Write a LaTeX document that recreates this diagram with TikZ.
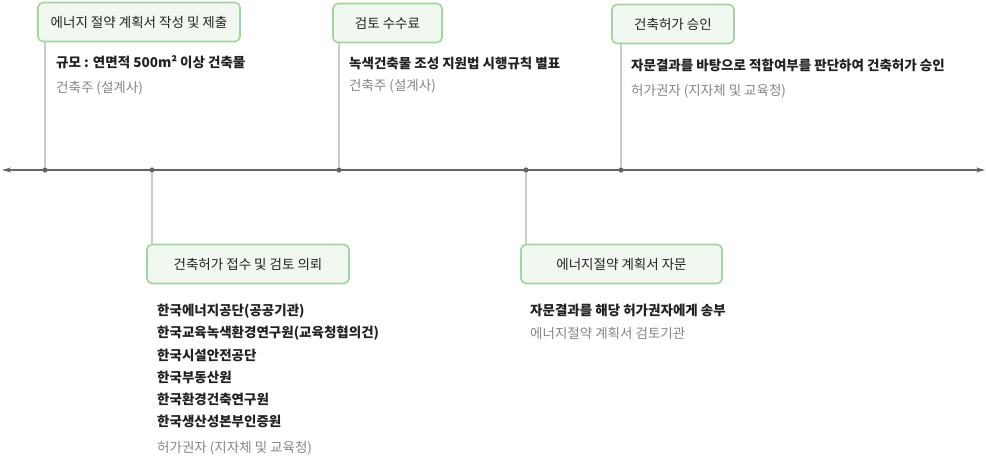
\documentclass[tikz,border=0pt]{standalone}
\usepackage{fontspec}
\setmainfont{Noto Sans CJK KR}
\usetikzlibrary{arrows.meta}
\definecolor{boxfill}{HTML}{F1F8EF}
\definecolor{boxline}{HTML}{A3D3A1}
\definecolor{txtdark}{HTML}{222222}
\definecolor{txtgray}{HTML}{858585}
\definecolor{stem}{HTML}{CCCCCC}
\definecolor{axis}{HTML}{666666}
\begin{document}
\begin{tikzpicture}[x=1pt,y=-1pt,
  stepbox/.style={draw=boxline,line width=1.6pt,fill=boxfill,rounded corners=5pt,
    minimum height=39pt,inner sep=0pt,text=txtdark,font=\fontsize{13.5}{16}\selectfont},
  desc/.style={anchor=west,inner sep=0pt,text=txtdark,font=\fontsize{13.5}{16}\selectfont\bfseries},
  sub/.style={anchor=west,inner sep=0pt,text=txtgray,font=\fontsize{13.5}{16}\selectfont},
  stemline/.style={draw=stem,line width=1.6pt},
  dot/.style={circle,fill=axis,inner sep=0pt,minimum size=5pt}
]
\useasboundingbox (0,0) rectangle (986,458);
% timeline
\coordinate (L) at (2,170);
\coordinate (R) at (985,170);
\draw[axis,line width=1.2pt,{Stealth[length=9pt,width=5pt]}-{Stealth[length=9pt,width=5pt]}] (L) -- (R);
% boxes
\node[stepbox,minimum width=202pt] (b1) at (139,22) {에너지 절약 계획서 작성 및 제출};
\node[stepbox,minimum width=109pt] (b2) at (387.5,23) {검토 수수료};
\node[stepbox,minimum width=122pt] (b3) at (673,24) {건축허가 승인};
\node[stepbox,minimum width=202pt] (b4) at (248,264) {건축허가 접수 및 검토 의뢰};
\node[stepbox,minimum width=201pt] (b5) at (621.5,264) {에너지절약 계획서 자문};
% dots
\node[dot] (d1) at (45,170) {};
\node[dot] (d4) at (152,170) {};
\node[dot] (d2) at (339,170) {};
\node[dot] (d5) at (526,170) {};
\node[dot] (d3) at (621,170) {};
% stems
\draw[stemline] (d1.center) -- (d1 |- b1.south);
\draw[stemline] (d2.center) -- (d2 |- b2.south);
\draw[stemline] (d3.center) -- (d3 |- b3.south);
\draw[stemline] (d4.center) -- (d4 |- b4.north);
\draw[stemline] (d5.center) -- (d5 |- b5.north);
% dots above stems
\fill[axis] (d1) circle (2.5pt) (d2) circle (2.5pt) (d3) circle (2.5pt) (d4) circle (2.5pt) (d5) circle (2.5pt);
% descriptions
\node[desc] (t1) at (56,62) {규모 : 연면적 500m² 이상 건축물};
\node[sub] (s1) at (56,88) {건축주 (설계사)};
\node[desc] (t2) at (349,63) {녹색건축물 조성 지원법 시행규칙 별표};
\node[sub] (s2) at (349,86) {건축주 (설계사)};
\node[desc] (t3) at (631,65) {자문결과를 바탕으로 적합여부를 판단하여 건축허가 승인};
\node[sub] (s3) at (631,91) {허가권자 (지자체 및 교육청)};
\node[desc] (t4a) at (157,311) {한국에너지공단(공공기관)};
\node[desc] (t4b) at (157,333) {한국교육녹색환경연구원(교육청협의건)};
\node[desc] (t4c) at (157,355) {한국시설안전공단};
\node[desc] (t4d) at (157,377) {한국부동산원};
\node[desc] (t4e) at (157,399) {한국환경건축연구원};
\node[desc] (t4f) at (157,421) {한국생산성본부인증원};
\node[sub] (s4) at (157,448) {허가권자 (지자체 및 교육청)};
\node[desc] (t5) at (530,310) {자문결과를 해당 허가권자에게 송부};
\node[sub] (s5) at (530,333) {에너지절약 계획서 검토기관};
\end{tikzpicture}
\end{document}
